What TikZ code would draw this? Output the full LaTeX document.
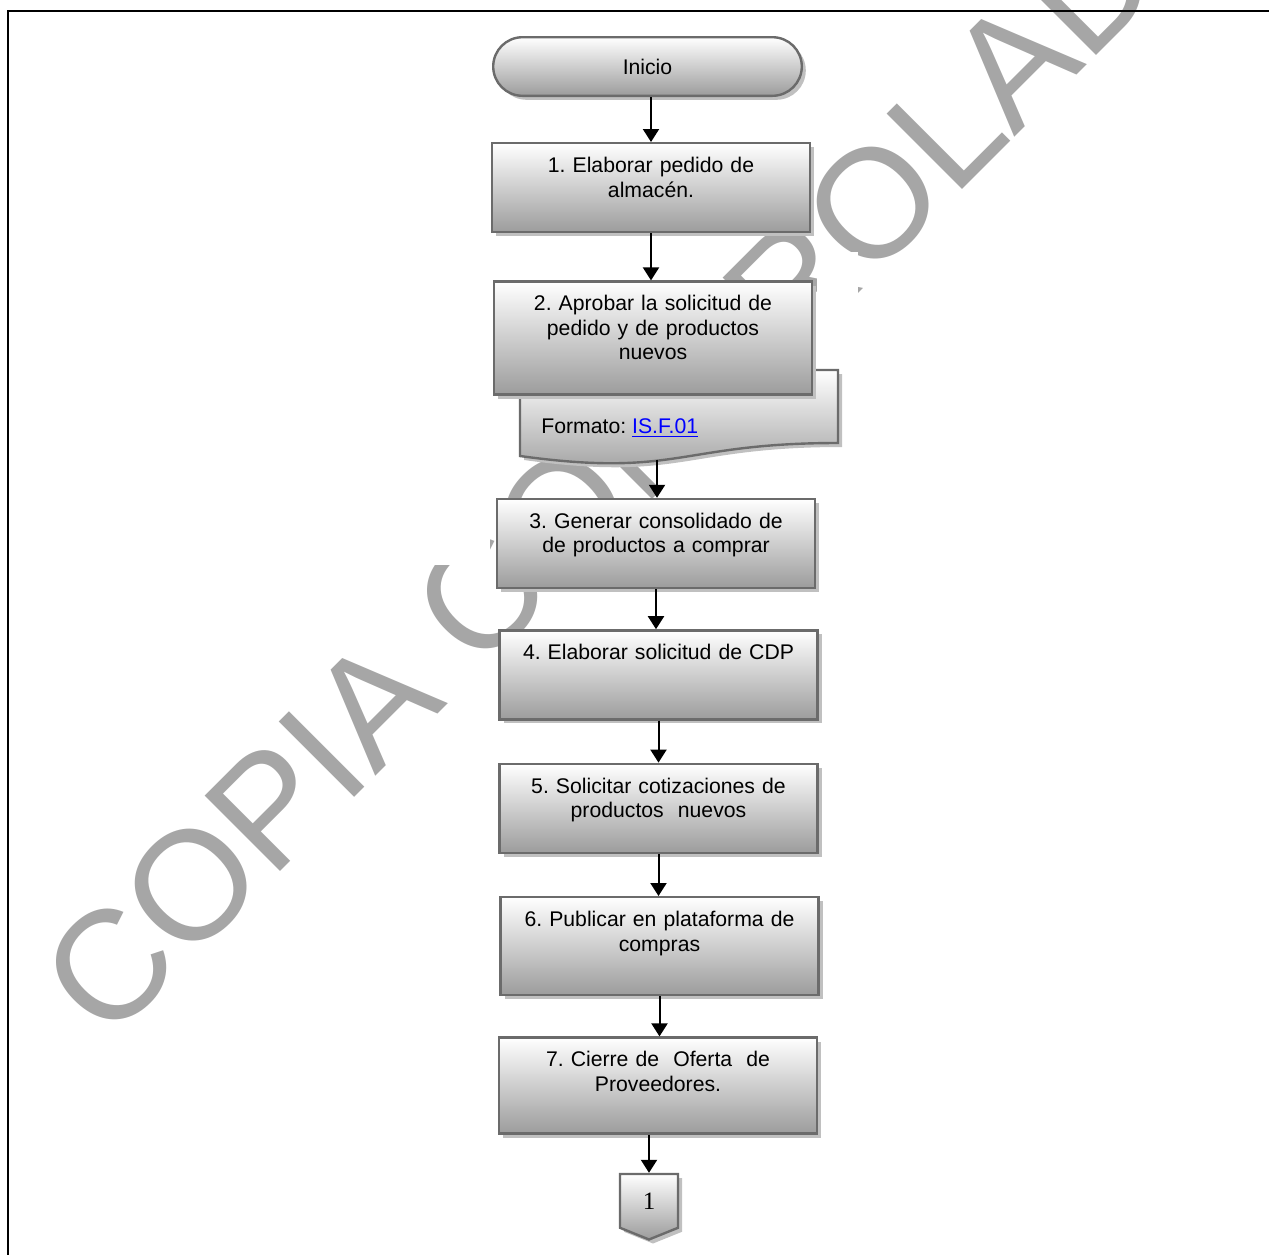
\documentclass[tikz,border=0pt]{standalone}
\usepackage{fontspec}
\setmainfont{Liberation Sans}
\newfontfamily\serifa{Liberation Serif}
\usepackage{tikz}
\usetikzlibrary{arrows.meta,positioning,calc,shadows,shapes.symbols}
\definecolor{agua}{HTML}{A6A6A6}
\definecolor{borde}{HTML}{6B6B6B}
\definecolor{sombra}{HTML}{C0C0C0}
\definecolor{fondo}{HTML}{9C9C9C}
\definecolor{enlace}{HTML}{0000FF}
\frenchspacing

\begin{document}
\begin{tikzpicture}[x=0.5pt,y=-0.5pt,node distance=21pt,every node/.style={font=\fontsize{10.6}{12.25}\selectfont}]
\tikzstyle{sombreado}=[draw=borde,line width=1.2pt,top color=white,bottom color=fondo,drop shadow={shadow xshift=2pt,shadow yshift=-2pt,fill=sombra,opacity=1}]
\tikzstyle{inicio}=[sombreado,rounded corners=14.65pt,minimum width=154.3pt,minimum height=29.3pt]
\tikzstyle{pasobox}=[sombreado,text width=150pt,align=center,inner xsep=4.5pt,inner ysep=0pt,text height=14.65pt]
\tikzstyle{conector}=[sombreado,shape=signal,signal to=south,signal pointer angle=136,minimum width=29pt,minimum height=29.5pt,font=\serifa\fontsize{12.5}{14}\selectfont]
\tikzstyle{flecha}=[-{Triangle[length=6.5pt,width=8pt]},line width=1pt]
\tikzstyle{marca}=[text=agua,font=\fontsize{77.5}{80}\selectfont,inner sep=0pt]
\useasboundingbox (0,0) rectangle (1269,1254);
\clip (0,0) rectangle (1269,1254);
\node[marca,rotate=45,anchor=base west] (copia) at (107,1045) {COPIA CONTROLADA};
\fill[white] (400,520) rectangle (490,565);
\fill[white] (817,252) rectangle (858,370);
\draw[line width=1pt] (8,1280) |- (1290,11);
\node[inicio] (ini) at (647.5,66.5) {Inicio};
\node[pasobox,text depth=29.85pt,below=22.5pt of ini,xshift=1.75pt] (s1) {1. Elaborar pedido de\\almacén.};
\shade[sombreado] (520,370) -- (838,370) -- (838,443) .. controls (679,443) and (679,478) .. (520,456) -- cycle;
\coordinate (docb) at (657,460);
\node[anchor=base west,inner sep=0pt] (fmt) at (541,433) {Formato: \textcolor{enlace}{\underline{IS.F.01}}};
\node[pasobox,text depth=41.85pt,below=23.5pt of s1,xshift=1pt] (s2) {2. Aprobar la solicitud de\\pedido y de productos\\nuevos};
\node[pasobox,text depth=29.85pt,below=51pt of s2,xshift=1.5pt] (s3) {3. Generar consolidado de\\de productos a comprar};
\node[pasobox,text depth=29.85pt,below=20pt of s3,xshift=1.25pt] (s4) {4. Elaborar solicitud de CDP};
\node[pasobox,text depth=29.85pt,below=21pt of s4] (s5) {5. Solicitar cotizaciones de\\productos~ nuevos};
\node[pasobox,text depth=34.35pt,below=of s5,xshift=0.5pt] (s6) {6. Publicar en plataforma de\\compras};
\node[pasobox,text depth=33.35pt,below=20pt of s6,xshift=-0.75pt] (s7) {7. Cierre de~ Oferta~ de\\Proveedores.};
\node[conector,below=19pt of s7,xshift=-4.5pt] (k1) {1};
\draw[flecha] (ini.south -| s1) -- (s1.north);
\draw[flecha] (s1.south) -- (s1.south |- s2.north);
\draw[flecha] (docb) -- (docb |- s3.north);
\draw[flecha] (s3.south) -- (s3.south |- s4.north);
\draw[flecha] (s4.south) -- (s5.north);
\draw[flecha] (s5.south) -- (s5.south |- s6.north);
\draw[flecha] (s6.south) -- (s6.south |- s7.north);
\draw[flecha] (k1.north |- s7.south) -- (k1.north);
\end{tikzpicture}
\end{document}
